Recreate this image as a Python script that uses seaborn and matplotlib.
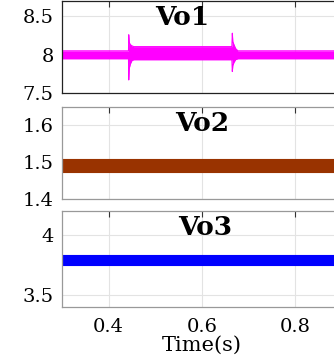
import numpy as np
import pandas as pd
import matplotlib
matplotlib.use("Agg")
import matplotlib.pyplot as plt
import seaborn as sns

# Vo1 ripple envelope (with load-step transients)
t1 = [0.30, 0.4425, 0.4430, 0.4440, 0.4465, 0.4500, 0.4540, 0.6640, 0.6650, 0.6660, 0.6685, 0.6720, 0.6770, 0.90]
vo1_hi = [8.05, 8.05, 8.26, 8.16, 8.13, 8.115, 8.105, 8.105, 8.28, 8.17, 8.13, 8.08, 8.05, 8.05]
vo1_lo = [7.947, 7.947, 7.67, 7.82, 7.88, 7.925, 7.934, 7.934, 7.78, 7.86, 7.90, 7.935, 7.947, 7.947]

# Vo2 and Vo3 ripple envelopes
t2 = [0.30, 0.90]
vo2_hi = [1.508, 1.508]
vo2_lo = [1.473, 1.473]
t3 = [0.30, 0.90]
vo3_hi = [3.836, 3.836]
vo3_lo = [3.754, 3.754]

x_ticks = [0.4, 0.6, 0.8]
x_labels = ["0.4", "0.6", "0.8"]

panels = [
    dict(t=t1, hi=vo1_hi, lo=vo1_lo, color="#ff00ff", name="Vo1",
         ylim=(7.5, 8.7), yticks=[7.5, 8, 8.5], ylabels=["7.5", "8", "8.5"],
         box=[62, 1, 342, 93], tx=0.43, spine="#222222"),
    dict(t=t2, hi=vo2_hi, lo=vo2_lo, color="#993300", name="Vo2",
         ylim=(1.4, 1.65), yticks=[1.4, 1.5, 1.6], ylabels=["1.4", "1.5", "1.6"],
         box=[62, 107, 342, 199], tx=0.50, spine="#999999"),
    dict(t=t3, hi=vo3_hi, lo=vo3_lo, color="#0000ff", name="Vo3",
         ylim=(3.4, 4.2), yticks=[3.5, 4], ylabels=["3.5", "4"],
         box=[62, 211, 342, 307], tx=0.51, spine="#999999"),
]

sns.set_theme(style="whitegrid")
plt.rcParams["font.family"] = ["DejaVu Serif"]

W, H = 334, 361
fig = plt.figure(figsize=(W / 100, H / 100), dpi=100)

for i, p in enumerate(panels):
    x0, y0, x1, y1 = p["box"]
    ax = fig.add_axes([x0 / W, 1 - y1 / H, (x1 - x0) / W, (y1 - y0) / H])
    df = pd.DataFrame({"t": p["t"], "hi": p["hi"], "lo": p["lo"]})
    ax.fill_between(df["t"], df["lo"], df["hi"], color=p["color"], lw=0)
    sns.lineplot(data=df, x="t", y="hi", ax=ax, color=p["color"], lw=0.8)
    sns.lineplot(data=df, x="t", y="lo", ax=ax, color=p["color"], lw=0.8)
    ax.set_xlim(0.3, 0.9)
    ax.set_ylim(*p["ylim"])
    ax.set_xticks(x_ticks)
    ax.set_yticks(p["yticks"])
    ax.set_yticklabels(p["ylabels"], fontsize=14, color="black")
    if i == 2:
        ax.set_xticklabels(x_labels, fontsize=14, color="black")
        ax.set_xlabel("Time(s)", fontsize=15, color="black", labelpad=0)
    else:
        ax.set_xticklabels([])
        ax.set_xlabel("")
    ax.set_ylabel("")
    ax.grid(True, color="#e3e3e3", lw=0.8)
    ax.tick_params(direction="in", top=True, right=True, length=4, width=0.8,
                   color="#333333", pad=6)
    ax.tick_params(axis="x", pad=8)
    for s in ax.spines.values():
        s.set_color(p["spine"])
        s.set_linewidth(0.9)
    ax.text(p["tx"], 0.96, p["name"], transform=ax.transAxes, ha="center", va="top",
            fontsize=19, fontweight="bold", color="black")

fig.savefig("out.png", dpi=100)
plt.close(fig)
